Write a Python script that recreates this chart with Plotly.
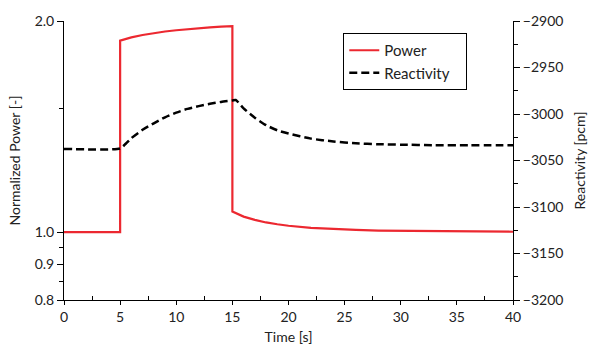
import plotly.graph_objects as go

# Power (normalized, log axis)
t_power = [0, 5, 5, 6, 7, 8, 9, 10, 11, 12, 13, 14, 15, 15, 15.5, 16, 17, 18, 19, 20,
           22, 24, 26, 28, 30, 33, 36, 40]
power = [1.0, 1.0, 1.875, 1.895, 1.91, 1.922, 1.932, 1.94, 1.947, 1.953, 1.958, 1.963,
         1.967, 1.07, 1.06, 1.052, 1.041, 1.032, 1.026, 1.021, 1.014, 1.01, 1.007,
         1.005, 1.004, 1.003, 1.002, 1.001]

# Reactivity [pcm]
t_react = [0, 5, 5.5, 6, 7, 8, 9, 10, 11, 12, 13, 14, 15, 15.3, 16, 17, 18, 19, 20,
           22, 24, 26, 28, 30, 33, 36, 40]
react = [-3037.5, -3037, -3032, -3026, -3017, -3010, -3003.5, -2998.5, -2994.5,
         -2991.5, -2989, -2987, -2985.5, -2985, -2994, -3004, -3012, -3017.5, -3021,
         -3026.5, -3029.5, -3031.5, -3032.5, -3033, -3033.5, -3033.5, -3033.5]

x_ticks = [0, 5, 10, 15, 20, 25, 30, 35, 40]
y_ticks = [0.8, 0.9, 1.0, 2.0]
y_ticklabels = ["0.8", "0.9", "1.0", "2.0"]
y_minor = [0.85, 0.95, 1.5]
y2_ticks = [-3200, -3150, -3100, -3050, -3000, -2950, -2900]

FONT = "Lato"
NB = "\u00a0"

fig = go.Figure()
fig.add_trace(go.Scatter(x=t_power, y=power, name="Power", mode="lines",
                         line=dict(color="#ec2830", width=2.2)))
fig.add_trace(go.Scatter(x=t_react, y=react, name="Reactivity" + NB * 3, mode="lines",
                         yaxis="y2", line=dict(color="black", width=2.5,
                                               dash="8px,4px", shape="spline",
                                               smoothing=0.6)))

fig.update_layout(
    width=596, height=350,
    margin=dict(l=64, r=83, t=21, b=50),
    plot_bgcolor="white", paper_bgcolor="white",
    font=dict(family=FONT, size=14, color="#222"),
    showlegend=True,
    legend=dict(x=0.622, y=0.957, xanchor="left", yanchor="top",
                bgcolor="white", bordercolor="black", borderwidth=1,
                font=dict(family=FONT, size=15, color="#222"),
                itemwidth=30, tracegroupgap=0),
    xaxis=dict(range=[0, 40], tickvals=x_ticks, showgrid=False, zeroline=False,
               showline=True, linecolor="black", linewidth=1, automargin=False,
               ticks="outside", ticklen=4, tickcolor="black",
               minor=dict(tickvals=[2.5, 7.5, 12.5, 17.5, 22.5, 27.5, 32.5, 37.5],
                          ticks="inside", ticklen=4, tickcolor="black"),
               title=dict(text="Time [s]", font=dict(size=14), standoff=8),
               tickfont=dict(size=14)),
    yaxis=dict(type="log", range=[-0.09691, 0.30103], tickvals=y_ticks,
               ticktext=y_ticklabels, showgrid=False, zeroline=False,
               showline=True, linecolor="black", linewidth=1, automargin=False,
               ticks="outside", ticklen=6, tickcolor="black",
               minor=dict(tickvals=y_minor, ticks="outside", ticklen=4,
                          tickcolor="black"),
               title=dict(text="Normalized Power [-]", font=dict(size=14),
                          standoff=10),
               tickfont=dict(size=14)),
    yaxis2=dict(range=[-3200, -2900], tickvals=y2_ticks, overlaying="y",
                side="right", showgrid=False, zeroline=False, automargin=False,
                showline=True, linecolor="black", linewidth=1,
                ticks="outside", ticklen=6, tickcolor="black",
                minor=dict(dtick=25, ticks="outside", ticklen=4,
                           tickcolor="black"),
                title=dict(text="Reactivity [pcm]", font=dict(size=14),
                           standoff=12),
                tickfont=dict(size=14)),
)

fig.write_html("out.html")
